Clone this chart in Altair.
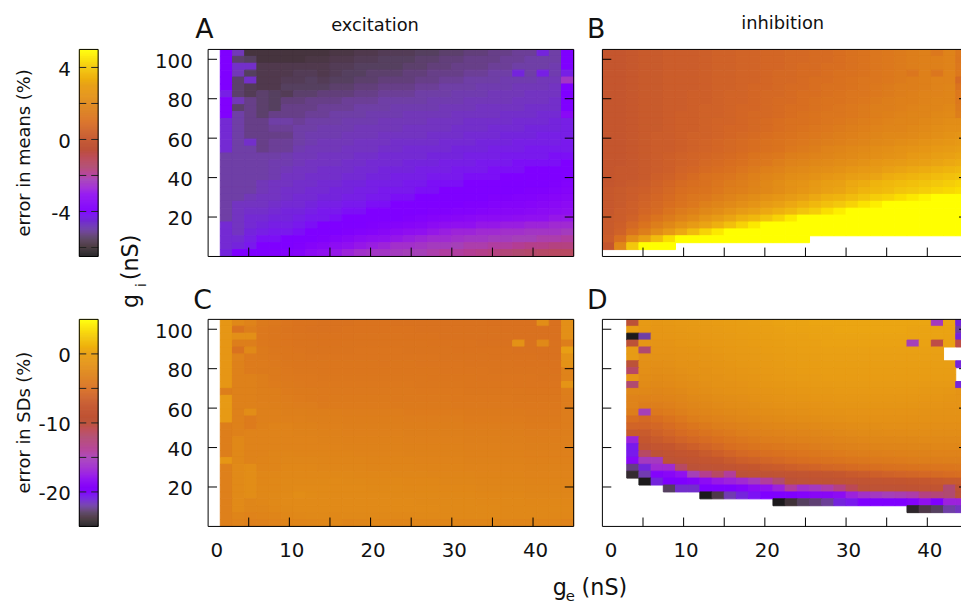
import altair as alt
import numpy as np
import pandas as pd

N = None
FONT = "DejaVu Sans"

# error in means, excitation (rows top to bottom, g_i high to low; columns g_e low to high)
means_exc = [
[N,-4.0,-4.8,-5.9,-5.9,-5.9,-5.9,-5.9,-5.9,-5.9,-5.8,-5.8,-5.7,-5.7,-5.6,-5.6,-5.6,-5.5,-5.5,-5.4,-5.4,-5.3,-5.3,-5.2,-5.2,-5.1,-5.1,-4.4,-5.0,-4.0],
[N,-4.0,-5.4,-5.5,-5.9,-5.9,-5.9,-5.9,-5.8,-5.8,-5.7,-5.7,-5.6,-5.6,-5.5,-5.5,-5.5,-5.4,-5.4,-5.3,-5.3,-5.2,-5.2,-5.2,-5.1,-5.1,-5.0,-5.0,-5.0,-4.0],
[N,-4.0,-4.6,-4.6,-5.7,-5.7,-5.7,-5.7,-5.7,-5.7,-5.6,-5.6,-5.5,-5.5,-5.5,-5.5,-5.4,-5.4,-5.3,-5.3,-5.2,-5.2,-5.2,-5.1,-5.1,-5.0,-5.0,-5.0,-4.9,-4.0],
[N,-4.0,-4.8,-5.5,-5.7,-5.7,-5.7,-5.6,-5.6,-5.7,-5.6,-5.5,-5.5,-5.4,-5.4,-5.4,-5.3,-5.3,-5.2,-5.2,-5.2,-5.1,-5.1,-5.0,-5.0,-4.4,-5.0,-4.3,-4.9,-4.3],
[N,-4.0,-5.4,-4.6,-5.7,-5.7,-5.6,-5.6,-5.5,-5.6,-5.5,-5.5,-5.4,-5.4,-5.3,-5.3,-5.3,-5.2,-5.2,-5.1,-5.1,-5.0,-5.0,-5.0,-4.9,-4.9,-4.9,-4.8,-4.8,-2.4],
[N,-4.0,-5.4,-5.6,-5.7,-5.7,-5.5,-5.5,-5.5,-5.5,-5.4,-5.4,-5.3,-5.3,-5.2,-5.2,-5.2,-5.1,-5.1,-5.0,-5.0,-5.0,-4.9,-4.9,-4.9,-4.8,-4.8,-4.8,-4.7,-4.0],
[N,-4.3,-5.4,-5.6,-5.4,-5.5,-5.6,-5.4,-5.4,-5.3,-5.3,-5.3,-5.2,-5.2,-5.1,-5.1,-5.1,-5.0,-5.0,-5.0,-4.9,-4.9,-4.9,-4.8,-4.8,-4.8,-4.7,-4.7,-4.7,-4.0],
[N,-3.9,-4.8,-5.2,-5.4,-5.5,-5.3,-5.3,-5.2,-5.2,-5.2,-5.1,-5.1,-5.1,-5.0,-5.0,-5.0,-5.0,-4.9,-4.9,-4.9,-4.8,-4.8,-4.8,-4.8,-4.7,-4.7,-4.7,-4.6,-4.0],
[N,-3.9,-5.4,-5.2,-5.4,-5.5,-5.2,-5.2,-5.2,-5.1,-5.1,-5.1,-5.0,-5.0,-5.0,-4.9,-4.9,-4.9,-4.9,-4.8,-4.8,-4.8,-4.7,-4.7,-4.7,-4.7,-4.6,-4.6,-4.6,-4.0],
[N,-3.9,-5.0,-5.2,-5.4,-5.2,-5.2,-5.2,-5.1,-5.1,-5.0,-5.0,-5.0,-4.9,-4.9,-4.9,-4.8,-4.8,-4.8,-4.8,-4.7,-4.7,-4.7,-4.7,-4.6,-4.6,-4.6,-4.5,-4.5,-3.4],
[N,-4.5,-5.0,-5.2,-5.2,-5.0,-5.0,-5.1,-5.0,-5.0,-5.0,-4.9,-4.9,-4.9,-4.8,-4.8,-4.8,-4.8,-4.7,-4.7,-4.7,-4.6,-4.6,-4.6,-4.6,-4.5,-4.5,-4.5,-4.4,-4.3],
[N,-4.5,-5.0,-5.2,-5.2,-5.1,-5.1,-5.0,-5.0,-4.9,-4.9,-4.9,-4.8,-4.8,-4.8,-4.8,-4.7,-4.7,-4.7,-4.7,-4.6,-4.6,-4.6,-4.5,-4.5,-4.5,-4.4,-4.4,-4.4,-4.3],
[N,-4.5,-5.0,-5.2,-5.2,-5.2,-5.2,-5.0,-4.9,-4.9,-4.9,-4.8,-4.8,-4.8,-4.7,-4.7,-4.7,-4.7,-4.6,-4.6,-4.6,-4.5,-4.5,-4.5,-4.4,-4.4,-4.4,-4.3,-4.3,-4.3],
[N,-4.5,-5.0,-4.6,-5.2,-5.1,-5.1,-5.0,-4.9,-4.8,-4.8,-4.8,-4.7,-4.7,-4.7,-4.6,-4.6,-4.6,-4.6,-4.5,-4.5,-4.5,-4.4,-4.4,-4.4,-4.3,-4.3,-4.3,-4.3,-4.2],
[N,-4.5,-5.0,-5.0,-5.2,-5.1,-5.1,-4.9,-4.8,-4.8,-4.8,-4.7,-4.7,-4.7,-4.6,-4.6,-4.5,-4.5,-4.5,-4.5,-4.4,-4.4,-4.4,-4.3,-4.3,-4.3,-4.2,-4.2,-4.2,-4.2],
[N,-5.0,-5.0,-5.0,-5.0,-5.0,-4.9,-4.8,-4.8,-4.7,-4.7,-4.7,-4.6,-4.6,-4.5,-4.5,-4.5,-4.5,-4.4,-4.4,-4.4,-4.3,-4.3,-4.3,-4.2,-4.2,-4.2,-4.2,-4.1,-4.1],
[N,-5.0,-5.0,-5.0,-5.0,-4.9,-4.9,-4.8,-4.7,-4.7,-4.7,-4.6,-4.6,-4.5,-4.5,-4.5,-4.4,-4.4,-4.4,-4.3,-4.3,-4.3,-4.2,-4.2,-4.2,-4.1,-4.1,-4.1,-4.1,-4.0],
[N,-5.0,-5.0,-5.0,-5.0,-4.9,-4.8,-4.7,-4.7,-4.6,-4.6,-4.6,-4.5,-4.5,-4.4,-4.4,-4.4,-4.3,-4.3,-4.3,-4.2,-4.2,-4.2,-4.1,-4.1,-4.1,-4.0,-4.0,-4.0,-4.0],
[N,-5.0,-5.0,-5.0,-5.0,-4.9,-4.7,-4.7,-4.6,-4.6,-4.6,-4.5,-4.5,-4.4,-4.4,-4.3,-4.3,-4.3,-4.2,-4.2,-4.2,-4.1,-4.1,-4.1,-4.0,-4.0,-4.0,-4.0,-4.0,-4.0],
[N,-5.0,-5.0,-5.0,-4.8,-4.7,-4.7,-4.6,-4.6,-4.5,-4.5,-4.4,-4.4,-4.3,-4.3,-4.3,-4.2,-4.2,-4.1,-4.1,-4.1,-4.0,-4.0,-4.0,-4.0,-4.0,-4.0,-4.0,-3.9,-3.8],
[N,-5.0,-5.0,-5.0,-4.8,-4.7,-4.6,-4.6,-4.5,-4.5,-4.4,-4.4,-4.3,-4.3,-4.2,-4.2,-4.2,-4.1,-4.1,-4.0,-4.0,-4.0,-4.0,-4.0,-4.0,-4.0,-3.9,-3.9,-3.8,-3.7],
[N,-5.0,-5.0,-4.8,-4.7,-4.7,-4.6,-4.5,-4.5,-4.4,-4.4,-4.3,-4.3,-4.2,-4.2,-4.1,-4.1,-4.0,-4.0,-4.0,-4.0,-4.0,-4.0,-3.9,-3.9,-3.8,-3.8,-3.7,-3.6,-3.5],
[N,-5.0,-4.7,-4.7,-4.7,-4.6,-4.5,-4.5,-4.4,-4.3,-4.3,-4.2,-4.2,-4.1,-4.1,-4.0,-4.0,-4.0,-4.0,-4.0,-4.0,-3.9,-3.9,-3.8,-3.7,-3.7,-3.6,-3.5,-3.4,-3.3],
[N,-5.0,-4.7,-4.6,-4.6,-4.5,-4.4,-4.4,-4.3,-4.2,-4.2,-4.1,-4.1,-4.0,-4.0,-4.0,-4.0,-4.0,-3.9,-3.9,-3.8,-3.8,-3.7,-3.6,-3.5,-3.5,-3.4,-3.3,-3.2,-3.1],
[N,-5.0,-4.7,-4.5,-4.5,-4.4,-4.4,-4.3,-4.2,-4.2,-4.1,-4.0,-4.0,-4.0,-4.0,-4.0,-3.9,-3.8,-3.7,-3.6,-3.5,-3.4,-3.3,-3.3,-3.2,-3.1,-3.0,-3.0,-2.9,-2.9],
[N,-4.5,-4.7,-4.5,-4.4,-4.3,-4.3,-4.2,-4.1,-4.0,-4.0,-4.0,-4.0,-3.9,-3.8,-3.7,-3.6,-3.5,-3.3,-3.1,-3.0,-3.0,-2.9,-2.9,-2.8,-2.8,-2.7,-2.7,-2.6,-2.6],
[N,-4.5,-4.7,-4.4,-4.3,-4.2,-4.2,-4.1,-4.0,-4.0,-4.0,-3.9,-3.8,-3.7,-3.5,-3.3,-3.1,-3.0,-2.9,-2.8,-2.7,-2.7,-2.6,-2.6,-2.5,-2.5,-2.4,-2.4,-2.4,-2.3],
[N,-4.5,-4.5,-4.3,-4.1,-4.1,-4.0,-4.0,-4.0,-3.9,-3.7,-3.5,-3.3,-3.1,-3.0,-2.9,-2.8,-2.7,-2.6,-2.6,-2.5,-2.4,-2.4,-2.3,-2.3,-2.2,-2.2,-2.1,-2.1,-2.0],
[N,-4.5,-4.4,-4.2,-4.0,-4.0,-4.0,-3.9,-3.7,-3.5,-3.2,-3.0,-2.9,-2.8,-2.7,-2.5,-2.5,-2.4,-2.3,-2.3,-2.2,-2.1,-2.1,-2.0,-2.0,-1.9,-1.8,-1.8,-1.7,-1.7],
[N,-4.4,-4.0,-4.0,-4.0,-3.9,-3.8,-3.7,-3.3,-3.0,-2.9,-2.7,-2.5,-2.4,-2.4,-2.3,-2.2,-2.2,-2.1,-2.0,-2.0,-1.9,-1.8,-1.7,-1.6,-1.5,-1.4,-1.3,-1.2,-1.2],
]

# error in means, inhibition
means_inh = [
[0.0,0.0,0.1,0.2,0.2,0.3,0.3,0.3,0.4,0.5,0.5,0.6,0.6,0.7,0.7,0.8,0.8,0.9,0.9,1.0,1.1,1.2,1.3,1.4,1.5,1.6,1.7,1.4,1.8,1.4],
[0.0,0.0,0.1,0.2,0.2,0.3,0.3,0.3,0.4,0.5,0.5,0.6,0.6,0.7,0.7,0.8,0.8,0.9,0.9,1.0,1.1,1.2,1.3,1.4,1.5,1.6,1.7,1.7,1.8,1.3],
[0.0,0.0,0.1,0.2,0.2,0.3,0.3,0.3,0.4,0.5,0.5,0.6,0.6,0.7,0.7,0.8,0.9,0.9,1.0,1.0,1.1,1.2,1.3,1.4,1.5,1.6,1.7,1.7,1.8,1.4],
[0.0,0.0,0.1,0.2,0.2,0.3,0.3,0.3,0.4,0.5,0.5,0.6,0.6,0.7,0.8,0.8,0.9,0.9,1.0,1.1,1.1,1.2,1.3,1.4,1.5,1.3,1.7,1.3,1.8,1.4],
[0.0,0.0,0.1,0.2,0.2,0.3,0.3,0.3,0.4,0.5,0.5,0.6,0.6,0.7,0.8,0.8,0.9,1.0,1.0,1.1,1.2,1.3,1.3,1.4,1.5,1.6,1.7,1.8,1.8,0.9],
[0.0,0.0,0.1,0.2,0.2,0.3,0.3,0.3,0.4,0.5,0.5,0.6,0.7,0.7,0.8,0.9,0.9,1.0,1.1,1.1,1.2,1.3,1.4,1.5,1.6,1.6,1.7,1.8,1.9,1.2],
[0.0,0.0,0.1,0.2,0.2,0.3,0.3,0.4,0.4,0.5,0.6,0.6,0.7,0.8,0.8,0.9,1.0,1.0,1.1,1.2,1.3,1.3,1.4,1.5,1.6,1.7,1.8,1.8,1.9,1.4],
[0.0,0.0,0.1,0.2,0.2,0.3,0.3,0.4,0.4,0.5,0.6,0.6,0.7,0.8,0.9,0.9,1.0,1.1,1.2,1.2,1.3,1.4,1.5,1.6,1.7,1.7,1.8,1.9,1.9,1.4],
[0.0,0.0,0.1,0.2,0.2,0.3,0.3,0.4,0.5,0.5,0.6,0.7,0.7,0.8,0.9,1.0,1.0,1.1,1.2,1.3,1.4,1.5,1.6,1.6,1.7,1.8,1.9,1.9,2.0,1.5],
[0.0,0.0,0.1,0.2,0.2,0.3,0.4,0.4,0.5,0.5,0.6,0.7,0.8,0.8,0.9,1.0,1.1,1.2,1.3,1.3,1.4,1.5,1.6,1.7,1.8,1.9,1.9,2.0,2.1,1.6],
[0.0,0.0,0.1,0.2,0.2,0.3,0.4,0.4,0.5,0.6,0.6,0.7,0.8,0.9,1.0,1.1,1.1,1.2,1.3,1.4,1.5,1.6,1.7,1.8,1.9,1.9,2.0,2.1,2.2,2.2],
[0.0,0.0,0.1,0.2,0.2,0.3,0.4,0.4,0.5,0.6,0.7,0.7,0.8,0.9,1.0,1.1,1.2,1.3,1.4,1.5,1.6,1.7,1.8,1.9,1.9,2.0,2.1,2.2,2.3,2.3],
[0.0,0.0,0.1,0.2,0.3,0.3,0.4,0.5,0.5,0.6,0.7,0.8,0.9,1.0,1.1,1.2,1.3,1.4,1.5,1.6,1.7,1.8,1.9,2.0,2.0,2.1,2.2,2.3,2.4,2.5],
[0.0,0.0,0.1,0.2,0.3,0.3,0.4,0.5,0.6,0.7,0.8,0.9,1.0,1.1,1.2,1.3,1.4,1.5,1.6,1.7,1.8,1.9,2.0,2.1,2.2,2.3,2.4,2.5,2.6,2.7],
[0.0,0.0,0.1,0.2,0.3,0.3,0.4,0.5,0.6,0.7,0.8,0.9,1.0,1.1,1.2,1.4,1.5,1.6,1.8,1.9,2.0,2.1,2.2,2.3,2.4,2.5,2.6,2.7,2.8,2.9],
[0.0,0.0,0.1,0.2,0.3,0.4,0.5,0.6,0.7,0.8,0.9,1.0,1.2,1.3,1.4,1.6,1.7,1.8,1.9,2.0,2.1,2.2,2.3,2.4,2.5,2.7,2.8,2.9,3.0,3.1],
[0.0,0.0,0.1,0.2,0.3,0.4,0.5,0.6,0.8,0.9,1.0,1.1,1.3,1.4,1.6,1.8,1.9,2.0,2.1,2.2,2.3,2.4,2.6,2.7,2.8,2.9,3.0,3.1,3.2,3.3],
[0.0,0.1,0.1,0.2,0.3,0.4,0.6,0.7,0.9,1.0,1.1,1.3,1.5,1.7,1.8,2.0,2.1,2.2,2.3,2.4,2.6,2.7,2.8,3.0,3.1,3.2,3.3,3.4,3.5,3.6],
[0.0,0.1,0.1,0.2,0.4,0.5,0.7,0.9,1.1,1.2,1.3,1.5,1.7,1.9,2.0,2.2,2.3,2.4,2.6,2.7,2.9,3.0,3.1,3.3,3.4,3.5,3.6,3.7,3.8,3.9],
[0.0,0.1,0.2,0.3,0.5,0.7,0.9,1.0,1.1,1.3,1.5,1.6,1.8,2.0,2.2,2.4,2.5,2.7,2.9,3.0,3.2,3.3,3.5,3.6,3.7,3.8,3.9,4.0,4.1,4.2],
[0.1,0.2,0.3,0.4,0.6,0.8,1.0,1.1,1.2,1.4,1.6,1.7,1.9,2.0,2.2,2.4,2.6,2.8,3.0,3.1,3.3,3.5,3.6,3.7,3.9,4.0,4.1,4.2,4.3,4.4],
[0.1,0.2,0.3,0.5,0.7,0.9,1.1,1.3,1.4,1.6,1.8,2.0,2.2,2.4,2.6,2.8,3.0,3.2,3.4,3.5,3.7,3.9,4.1,4.2,4.4,4.6,4.8,6,6,6],
[0.1,0.2,0.4,0.6,0.8,1.0,1.2,1.4,1.7,1.9,2.1,2.3,2.5,2.8,3.0,3.2,3.4,3.6,3.8,4.0,4.2,4.5,4.7,6,6,6,6,6,6,6],
[0.1,0.3,0.4,0.7,0.9,1.2,1.5,1.7,2.0,2.2,2.5,2.8,3.0,3.2,3.4,3.6,3.9,4.1,4.4,4.7,6,6,6,6,6,6,6,6,6,6],
[0.2,0.3,0.5,0.9,1.2,1.5,1.8,2.1,2.5,2.8,3.1,3.4,3.6,3.9,4.2,4.6,6,6,6,6,6,6,6,6,6,6,6,6,6,6],
[0.2,0.4,0.8,1.2,1.6,2.0,2.4,2.8,3.1,3.4,3.8,4.2,4.6,6,6,6,6,6,6,6,6,6,6,6,6,6,6,6,6,6],
[0.2,0.5,1.1,1.6,2.2,2.7,3.2,3.7,4.2,4.6,6,6,6,6,6,6,6,6,6,6,6,6,6,6,6,6,6,6,6,6],
[0.3,1.0,2.2,3.0,3.7,4.4,6,6,6,6,6,6,6,6,6,6,6,N,N,N,N,N,N,N,N,N,N,N,N,N],
[0.0,2.0,4.0,6,6,6,N,N,N,N,N,N,N,N,N,N,N,N,N,N,N,N,N,N,N,N,N,N,N,N],
[N,N,N,N,N,N,N,N,N,N,N,N,N,N,N,N,N,N,N,N,N,N,N,N,N,N,N,N,N,N],
]

# error in SDs, excitation
sds_exc = [
[N,-1.0,-2.5,-3.0,-3.8,-4.0,-4.3,-4.5,-4.5,-4.6,-4.6,-4.6,-4.5,-4.5,-4.5,-4.6,-4.6,-4.6,-4.6,-4.6,-4.6,-4.6,-4.6,-4.7,-4.7,-4.7,-4.7,-2.0,-4.7,-1.8],
[N,-1.0,-4.5,-3.5,-4.0,-4.2,-4.4,-4.5,-4.6,-4.6,-4.6,-4.5,-4.5,-4.5,-4.5,-4.5,-4.5,-4.6,-4.6,-4.6,-4.6,-4.6,-4.6,-4.6,-4.7,-4.7,-4.7,-4.7,-4.7,-1.8],
[N,-1.0,-1.8,-1.8,-4.0,-4.2,-4.3,-4.4,-4.5,-4.5,-4.5,-4.5,-4.4,-4.4,-4.4,-4.4,-4.5,-4.5,-4.5,-4.6,-4.6,-4.6,-4.6,-4.6,-4.6,-4.7,-4.7,-4.7,-4.7,-1.8],
[N,-1.0,-3.5,-3.5,-4.0,-4.2,-4.3,-4.4,-4.4,-4.5,-4.5,-4.4,-4.4,-4.4,-4.4,-4.4,-4.4,-4.4,-4.5,-4.5,-4.5,-4.5,-4.6,-4.6,-4.6,-1.5,-4.6,-2.4,-4.6,-3.5],
[N,-1.0,-4.6,-2.4,-3.8,-4.1,-4.2,-4.3,-4.4,-4.4,-4.4,-4.4,-4.3,-4.3,-4.3,-4.3,-4.4,-4.4,-4.4,-4.4,-4.5,-4.5,-4.5,-4.5,-4.5,-4.6,-4.6,-4.6,-4.6,-0.2],
[N,-1.0,-3.0,-3.7,-3.8,-4.0,-4.2,-4.2,-4.3,-4.3,-4.3,-4.3,-4.3,-4.3,-4.3,-4.3,-4.3,-4.3,-4.3,-4.4,-4.4,-4.4,-4.4,-4.5,-4.5,-4.5,-4.5,-4.6,-4.6,-1.5],
[N,-1.0,-3.2,-3.7,-3.7,-3.9,-4.1,-4.2,-4.2,-4.2,-4.2,-4.2,-4.2,-4.2,-4.3,-4.2,-4.2,-4.3,-4.3,-4.3,-4.3,-4.4,-4.4,-4.4,-4.4,-4.5,-4.5,-4.5,-4.5,-1.5],
[N,-1.0,-3.2,-3.7,-3.8,-3.8,-4.0,-4.1,-4.1,-4.2,-4.2,-4.2,-4.2,-4.2,-4.2,-4.2,-4.2,-4.2,-4.2,-4.3,-4.3,-4.3,-4.3,-4.4,-4.4,-4.4,-4.4,-4.4,-4.5,-3.0],
[N,-1.0,-3.2,-3.2,-3.5,-3.8,-3.9,-4.0,-4.0,-4.1,-4.1,-4.1,-4.1,-4.1,-4.1,-4.1,-4.1,-4.1,-4.2,-4.2,-4.2,-4.2,-4.3,-4.3,-4.3,-4.3,-4.3,-4.4,-4.4,-3.0],
[N,-1.0,-3.2,-3.2,-3.5,-3.7,-3.8,-3.9,-4.0,-4.0,-4.0,-4.0,-4.0,-4.0,-4.0,-4.0,-4.0,-4.1,-4.1,-4.1,-4.1,-4.2,-4.2,-4.2,-4.2,-4.3,-4.3,-4.3,-4.3,-1.2],
[N,-3.5,-3.2,-3.2,-3.4,-3.5,-3.7,-3.8,-3.8,-3.9,-3.9,-3.9,-3.9,-3.9,-3.9,-3.9,-3.9,-4.0,-4.0,-4.0,-4.0,-4.1,-4.1,-4.1,-4.1,-4.1,-4.2,-4.2,-4.2,-3.5],
[N,-0.6,-3.2,-3.2,-3.4,-3.5,-3.6,-3.7,-3.8,-3.9,-3.8,-3.8,-3.8,-3.8,-3.8,-3.9,-3.9,-3.9,-3.9,-3.9,-4.0,-4.0,-4.0,-4.0,-4.0,-4.1,-4.1,-4.1,-4.1,-3.6],
[N,-0.6,-3.2,-3.2,-3.3,-3.4,-3.5,-3.6,-3.6,-3.8,-3.7,-3.7,-3.7,-3.7,-3.7,-3.8,-3.8,-3.8,-3.8,-3.8,-3.9,-3.9,-3.9,-3.9,-3.9,-4.0,-4.0,-4.0,-4.0,-3.6],
[N,-0.6,-3.2,-2.0,-3.3,-3.3,-3.4,-3.4,-3.5,-3.5,-3.5,-3.6,-3.6,-3.6,-3.6,-3.6,-3.7,-3.7,-3.7,-3.7,-3.7,-3.8,-3.8,-3.8,-3.8,-3.8,-3.9,-3.9,-3.9,-3.6],
[N,-0.6,-3.2,-3.7,-3.3,-3.3,-3.3,-3.3,-3.4,-3.4,-3.4,-3.5,-3.5,-3.5,-3.5,-3.5,-3.6,-3.6,-3.6,-3.6,-3.6,-3.7,-3.7,-3.7,-3.7,-3.7,-3.8,-3.8,-3.8,-3.6],
[N,-3.5,-3.2,-3.7,-3.2,-3.0,-3.0,-3.2,-3.2,-3.3,-3.3,-3.4,-3.4,-3.4,-3.4,-3.4,-3.5,-3.5,-3.5,-3.5,-3.5,-3.6,-3.6,-3.6,-3.6,-3.6,-3.7,-3.7,-3.7,-3.6],
[N,-3.5,-3.2,-3.0,-3.0,-3.0,-3.0,-3.1,-3.1,-3.2,-3.2,-3.3,-3.3,-3.3,-3.3,-3.3,-3.4,-3.4,-3.4,-3.4,-3.4,-3.5,-3.5,-3.5,-3.5,-3.5,-3.6,-3.6,-3.6,-3.5],
[N,-3.5,-2.5,-3.0,-3.0,-3.0,-3.0,-3.0,-3.0,-3.1,-3.1,-3.2,-3.2,-3.2,-3.2,-3.2,-3.3,-3.3,-3.3,-3.3,-3.3,-3.4,-3.4,-3.4,-3.4,-3.4,-3.5,-3.5,-3.5,-3.4],
[N,-3.5,-2.5,-3.0,-3.0,-3.0,-3.0,-3.0,-3.0,-3.0,-3.0,-3.1,-3.1,-3.1,-3.1,-3.1,-3.2,-3.2,-3.2,-3.2,-3.2,-3.3,-3.3,-3.3,-3.3,-3.3,-3.4,-3.4,-3.4,-3.4],
[N,-3.5,-2.5,-3.0,-3.0,-2.8,-2.8,-2.9,-2.9,-2.9,-2.9,-2.9,-3.0,-3.0,-3.0,-3.0,-3.1,-3.1,-3.1,-3.1,-3.1,-3.2,-3.2,-3.2,-3.2,-3.2,-3.3,-3.3,-3.3,-3.3],
[N,-1.0,-2.5,-3.0,-2.9,-2.8,-2.7,-2.7,-2.7,-2.8,-2.8,-2.8,-2.8,-2.9,-2.9,-2.9,-2.9,-3.0,-3.0,-3.0,-3.0,-3.1,-3.1,-3.1,-3.1,-3.1,-3.2,-3.2,-3.2,-3.2],
[N,-3.3,-2.3,-2.0,-2.8,-2.8,-2.6,-2.6,-2.6,-2.7,-2.7,-2.7,-2.7,-2.8,-2.8,-2.8,-2.8,-2.9,-2.9,-2.9,-2.9,-3.0,-3.0,-3.0,-3.0,-3.0,-3.1,-3.1,-3.1,-3.1],
[N,-3.3,-2.3,-2.0,-2.6,-2.6,-2.5,-2.5,-2.5,-2.5,-2.5,-2.5,-2.6,-2.6,-2.6,-2.7,-2.7,-2.7,-2.8,-2.8,-2.8,-2.8,-2.9,-2.9,-2.9,-2.9,-3.0,-3.0,-3.0,-3.0],
[N,-3.3,-2.3,-2.0,-2.6,-2.5,-2.4,-2.4,-2.4,-2.4,-2.3,-2.4,-2.4,-2.5,-2.5,-2.5,-2.6,-2.6,-2.6,-2.7,-2.7,-2.7,-2.8,-2.8,-2.8,-2.8,-2.9,-2.9,-2.9,-2.9],
[N,-3.3,-2.3,-2.0,-2.5,-2.5,-2.4,-2.3,-2.3,-2.3,-2.3,-2.3,-2.3,-2.4,-2.4,-2.4,-2.5,-2.5,-2.5,-2.6,-2.6,-2.6,-2.7,-2.7,-2.7,-2.7,-2.8,-2.8,-2.8,-2.8],
[N,-3.3,-2.3,-2.0,-2.5,-2.4,-2.3,-2.0,-2.2,-2.3,-2.3,-2.3,-2.3,-2.3,-2.3,-2.4,-2.4,-2.4,-2.4,-2.5,-2.5,-2.5,-2.6,-2.6,-2.6,-2.6,-2.7,-2.7,-2.7,-2.7],
[N,-3.3,-2.3,-2.7,-2.6,-2.4,-2.3,-2.3,-2.3,-2.3,-2.3,-2.3,-2.3,-2.3,-2.3,-2.3,-2.3,-2.4,-2.4,-2.4,-2.4,-2.4,-2.5,-2.5,-2.5,-2.5,-2.6,-2.6,-2.6,-2.6],
[N,-3.3,-2.3,-2.7,-2.7,-2.5,-2.4,-2.3,-2.3,-2.3,-2.3,-2.3,-2.3,-2.3,-2.3,-2.3,-2.3,-2.3,-2.3,-2.4,-2.4,-2.4,-2.4,-2.4,-2.5,-2.5,-2.5,-2.5,-2.5,-2.5],
[N,-3.3,-2.8,-3.0,-2.9,-2.8,-2.6,-2.5,-2.4,-2.4,-2.5,-2.4,-2.4,-2.4,-2.4,-2.5,-2.5,-2.4,-2.4,-2.4,-2.4,-2.4,-2.4,-2.4,-2.5,-2.5,-2.5,-2.5,-2.6,-2.6],
[N,-3.3,-3.0,-3.3,-3.2,-3.0,-2.9,-2.8,-2.7,-2.6,-2.5,-2.8,-2.7,-2.6,-2.6,-2.8,-2.8,-2.7,-2.7,-2.7,-2.7,-2.7,-2.7,-2.7,-2.7,-2.8,-2.8,-2.8,-2.8,-3.0],
]

# error in SDs, inhibition
sds_inh = [
[N,N,-10,-0.6,-0.9,-0.8,-0.7,-0.6,-0.5,-0.4,-0.3,-0.2,-0.1,0.0,0.1,0.2,0.2,0.3,0.3,0.3,0.3,0.3,0.3,0.3,0.3,0.3,0.3,-15.5,0.3,-21],
[N,N,-0.3,-0.7,-1.0,-0.9,-0.8,-0.7,-0.6,-0.5,-0.4,-0.3,-0.2,-0.1,0.0,0.1,0.1,0.2,0.2,0.3,0.3,0.3,0.3,0.3,0.3,0.2,0.2,0.2,0.2,-22],
[N,N,-25.5,-22,-1.0,-1.0,-0.9,-0.8,-0.7,-0.6,-0.5,-0.4,-0.3,-0.2,-0.1,0.0,0.0,0.1,0.1,0.2,0.2,0.2,0.2,0.2,0.2,0.2,0.2,0.2,0.1,-21],
[N,N,-10,-1.0,-1.2,-1.2,-1.0,-0.9,-0.8,-0.7,-0.6,-0.5,-0.4,-0.3,-0.2,-0.1,0.0,0.0,0.1,0.1,0.1,0.1,0.1,0.1,0.1,-15,0.1,-10.5,0.1,-10.5],
[N,N,-0.5,-12,-1.3,-1.3,-1.2,-1.1,-1.0,-0.8,-0.7,-0.6,-0.5,-0.4,-0.3,-0.2,-0.1,-0.1,0.0,0.0,0.0,0.0,0.0,0.0,0.0,0.0,0.0,0.0,N,N],
[N,N,-0.5,-1.5,-1.5,-1.5,-1.3,-1.2,-1.1,-1.0,-0.8,-0.7,-0.6,-0.5,-0.4,-0.3,-0.2,-0.2,-0.1,-0.1,-0.1,-0.1,-0.1,-0.1,-0.1,-0.1,-0.1,-0.1,N,N],
[N,N,-10,-1.7,-1.8,-1.7,-1.5,-1.4,-1.2,-1.1,-1.0,-0.8,-0.7,-0.6,-0.5,-0.4,-0.3,-0.3,-0.2,-0.2,-0.2,-0.2,-0.2,-0.2,-0.2,-0.2,-0.2,-0.2,-0.2,-21],
[N,N,-11.5,-1.8,-2.0,-1.9,-1.7,-1.5,-1.4,-1.2,-1.1,-1.0,-0.8,-0.7,-0.6,-0.5,-0.4,-0.4,-0.3,-0.3,-0.3,-0.3,-0.3,-0.3,-0.3,-0.3,-0.3,-0.3,-0.3,N],
[N,N,-1.0,-2.0,-2.2,-2.1,-1.9,-1.7,-1.5,-1.4,-1.2,-1.1,-1.0,-0.8,-0.7,-0.6,-0.5,-0.5,-0.4,-0.4,-0.4,-0.4,-0.4,-0.4,-0.4,-0.4,-0.4,-0.4,-0.4,N],
[N,N,-12,-2.2,-2.4,-2.3,-2.1,-1.9,-1.7,-1.5,-1.4,-1.3,-1.1,-1.0,-0.9,-0.8,-0.7,-0.6,-0.6,-0.5,-0.5,-0.5,-0.5,-0.5,-0.5,-0.5,-0.6,-0.6,-0.6,-21],
[N,N,-2.5,-2.5,-2.7,-2.6,-2.4,-2.1,-1.9,-1.7,-1.6,-1.5,-1.3,-1.2,-1.1,-1.0,-0.9,-0.8,-0.8,-0.7,-0.7,-0.7,-0.7,-0.7,-0.7,-0.7,-0.8,-0.8,-0.9,-1.2],
[N,N,-3.0,-3.0,-3.0,-2.9,-2.7,-2.4,-2.2,-2.0,-1.9,-1.8,-1.6,-1.4,-1.3,-1.2,-1.1,-1.0,-1.0,-0.9,-0.9,-0.9,-0.9,-0.9,-0.9,-0.9,-1.0,-1.0,-1.1,-1.2],
[N,N,-3.0,-3.5,-3.5,-3.3,-3.0,-2.7,-2.5,-2.3,-2.1,-2.0,-1.9,-1.7,-1.6,-1.5,-1.4,-1.3,-1.2,-1.1,-1.1,-1.1,-1.1,-1.1,-1.1,-1.1,-1.2,-1.2,-1.3,-1.3],
[N,N,-3.5,-15,-4.0,-3.7,-3.4,-3.0,-2.8,-2.6,-2.4,-2.3,-2.1,-2.0,-1.9,-1.8,-1.7,-1.6,-1.5,-1.4,-1.3,-1.3,-1.3,-1.3,-1.3,-1.3,-1.4,-1.4,-1.4,-1.4],
[N,N,-5.0,-5.5,-5.0,-4.5,-4.0,-3.5,-3.2,-3.0,-2.8,-2.6,-2.5,-2.3,-2.2,-2.1,-2.0,-1.9,-1.8,-1.7,-1.6,-1.6,-1.6,-1.6,-1.6,-1.6,-1.6,-1.6,-1.6,-1.6],
[N,N,-6.0,-6.0,-5.7,-5.2,-4.7,-4.2,-3.8,-3.5,-3.3,-3.1,-2.9,-2.7,-2.6,-2.5,-2.4,-2.3,-2.2,-2.1,-2.0,-1.9,-1.9,-1.8,-1.8,-1.8,-1.8,-1.8,-1.8,-1.8],
[N,N,-7.0,-7.0,-6.3,-5.8,-5.3,-4.9,-4.5,-4.1,-3.8,-3.5,-3.3,-3.1,-3.0,-2.9,-2.8,-2.7,-2.6,-2.4,-2.3,-2.2,-2.2,-2.1,-2.1,-2.0,-2.0,-2.0,-2.0,-2.0],
[N,N,-17,-7.5,-7.0,-6.5,-6.0,-5.6,-5.2,-4.8,-4.4,-4.1,-3.8,-3.6,-3.5,-3.3,-3.2,-3.1,-3.0,-2.8,-2.7,-2.6,-2.5,-2.5,-2.4,-2.4,-2.3,-2.3,-2.3,-2.3],
[N,N,-20.5,-9.0,-8.0,-7.5,-7.0,-6.5,-6.0,-5.5,-5.0,-4.7,-4.4,-4.2,-4.0,-3.8,-3.7,-3.6,-3.4,-3.2,-3.1,-3.0,-2.9,-2.8,-2.8,-2.7,-2.7,-2.6,-2.6,-2.6],
[N,N,-20.5,-11.5,-9.5,-8.5,-8.0,-7.5,-7.0,-6.5,-6.0,-5.5,-5.2,-4.9,-4.7,-4.5,-4.3,-4.1,-3.9,-3.7,-3.6,-3.5,-3.4,-3.3,-3.2,-3.1,-3.1,-3.0,-3.0,-3.0],
[N,N,-19,-15.5,-15.5,-9.5,-9.0,-8.5,-8.0,-7.5,-7.0,-6.5,-6.2,-5.8,-5.5,-5.2,-5.0,-4.8,-4.6,-4.4,-4.2,-4.1,-3.9,-3.8,-3.7,-3.6,-3.5,-3.5,-3.4,-3.4],
[N,N,-22.5,-21,-16.5,-16.5,-11.5,-10,-9.5,-9.0,-8.5,-8.0,-7.5,-7.0,-6.8,-6.5,-6.2,-6.0,-5.7,-5.5,-5.3,-5.1,-4.9,-4.7,-4.6,-4.5,-4.4,-4.3,-4.2,-4.1],
[N,N,-24.3,-21.8,-19.5,-19,-18,-15,-13.5,-11.5,-14,-10,-9.5,-9.0,-8.8,-8.5,-8.2,-8.0,-7.7,-7.4,-7.1,-6.8,-6.5,-6.2,-6.0,-5.8,-5.6,-5.4,-5.2,-5.0],
[N,N,N,-25,-21,-20,-20,-19.5,-18.5,-17.5,-17,-16.5,-15.5,-14,-12,-10,-9.5,-9.2,-9.0,-8.8,-8.6,-8.4,-8.2,-8.0,-7.8,-7.6,-7.4,-7.2,-7.0,-7.0],
[N,N,N,N,N,-23,-21.3,-21.3,-20,-20,-20,-19.5,-18.5,-18,-17,-14,-16,-15.5,-14.5,-13,-11,-10,-9.5,-9.5,-9.3,-9.0,-8.8,-8.5,-12,-9],
[N,N,N,N,N,N,N,N,-25.5,-23.5,-21.8,-21,-20.3,-20,-20,-20,-19.5,-19,-19,-18.5,-17,-16,-15.5,-15,-14.8,-14.5,-13,-12.5,-12,-10],
[N,N,N,N,N,N,N,N,N,N,N,N,N,N,-25,-24,-23,-22.7,-22.2,-21,-20.5,-20,-20,-20,-20,-19.5,-18,-20,-17,-17],
[N,N,N,N,N,N,N,N,N,N,N,N,N,N,N,N,N,N,N,N,N,N,N,N,N,-24.5,-23.5,-23,-22,-21.5],
[N]*30,
[N]*30,
]

means_bar_ticks = [-6, -4, -2, 0, 2, 4]
sds_bar_ticks = [-25, -20, -15, -10, -5, 0]
x_ticks = [5, 10, 15, 20, 25, 30, 35, 40]
x_ticks_full = [0] + x_ticks
y_ticks = [20, 40, 60, 80, 100]

means_stops = [-6.5,-6,-5.5,-5,-4.4,-4,-3,-2.2,-1.5,-0.5,0,1,2,3,4,5]
sds_stops = [-25,-24,-23,-22,-21,-20,-18,-15,-12,-10,-7.5,-5,-2.5,0,2.5,5]
palette = ["#1c1a1c","#403238","#55405f","#6f3fa6","#7424dc","#7f00ff","#9010f0","#a540b8",
           "#b04a70","#bc5238","#c4562e","#d86e20","#e08818","#e9a014","#f3c80c","#ffff00"]

CELL_X, CELL_Y = 1.5, 3.5
W, H = 369, 209
WB = 362
GAP_AB = 29
GAP_BAR = 111
INK = "#000000"


def one():
    return alt.Data(values=[{}])


def label(txt, x, y, size, angle=0, align="left", color="#111111"):
    return alt.Chart(one()).mark_text(
        text=txt, font=FONT, fontSize=size, angle=angle, align=align,
        baseline="alphabetic", color=color,
    ).encode(x=alt.value(x), y=alt.value(y))


def border(w, h, right=True):
    parts = [
        alt.Chart(one()).mark_rule(color=INK, strokeWidth=1).encode(x=alt.value(0), x2=alt.value(w), y=alt.value(0)),
        alt.Chart(one()).mark_rule(color=INK, strokeWidth=1).encode(x=alt.value(0), x2=alt.value(w), y=alt.value(h)),
        alt.Chart(one()).mark_rule(color=INK, strokeWidth=1).encode(x=alt.value(0), y=alt.value(0), y2=alt.value(h)),
    ]
    if right:
        parts.append(alt.Chart(one()).mark_rule(color=INK, strokeWidth=1).encode(x=alt.value(w), y=alt.value(0), y2=alt.value(h)))
    return parts


def cells(matrix):
    rows = []
    n = len(matrix)
    for r, row in enumerate(matrix):
        for c, v in enumerate(row):
            if v is None:
                continue
            rows.append({"x0": c * CELL_X, "x1": (c + 1) * CELL_X,
                         "y0": (n - 1 - r) * CELL_Y, "y1": (n - r) * CELL_Y, "v": v})
    return pd.DataFrame(rows)


def panel(matrix, stops, plot_w, cell_w, xmax, show_x, show_y, extras, right_ticks):
    xscale = alt.Scale(domain=[0, xmax], range=[0, plot_w], nice=False, zero=False)
    yscale = alt.Scale(domain=[0, 105], nice=False, zero=False)
    cscale = alt.Scale(domain=stops, range=palette, clamp=True)
    xaxis = alt.Axis(values=x_ticks_full, tickSize=0, domain=False, grid=False, title=None,
                     labelFont=FONT, labelFontSize=20, labelColor="#111111", labelPadding=14,
                     labelOffset=2, labelOverlap=False,
                     labelExpr="datum.value % 10 == 0 ? '' + datum.value : ''") if show_x else None
    yaxis = alt.Axis(values=y_ticks, tickSize=0, domain=False, grid=False, title=None,
                     labelFont=FONT, labelFontSize=20, labelColor="#111111", labelPadding=16,
                     labelOffset=2) if show_y else None
    rect = alt.Chart(cells(matrix)).mark_rect(clip=True, strokeWidth=1).encode(
        x=alt.X("x0:Q", scale=xscale, axis=xaxis),
        x2="x1:Q",
        y=alt.Y("y0:Q", scale=yscale, axis=yaxis),
        y2="y1:Q",
        color=alt.Color("v:Q", scale=cscale, legend=None),
        stroke=alt.Stroke("v:Q", scale=cscale, legend=None),
    )
    xt = alt.Chart(pd.DataFrame({"t": x_ticks})).mark_rule(color=INK, strokeWidth=1).encode(
        x=alt.X("t:Q", scale=xscale, axis=xaxis), y=alt.value(H), y2=alt.value(H - 9))
    yt = alt.Chart(pd.DataFrame({"t": y_ticks})).mark_rule(color=INK, strokeWidth=1).encode(
        y=alt.Y("t:Q", scale=yscale, axis=yaxis), x=alt.value(0), x2=alt.value(9))
    rt = alt.Chart(pd.DataFrame({"t": right_ticks})).mark_rule(color=INK, strokeWidth=1).encode(
        y=alt.Y("t:Q", scale=yscale, axis=yaxis), x=alt.value(W - 9), x2=alt.value(min(W, plot_w)))
    layers = [rect, xt, yt, rt] + border(plot_w, H, right=plot_w == W) + extras
    return alt.layer(*layers).properties(width=cell_w, height=H)


def bar(stops, ticks, lo, hi, shown, title, tx_y):
    steps = np.linspace(lo, hi, 211)
    df = pd.DataFrame({"a": steps[:-1], "b": steps[1:]})
    df["v"] = (df["a"] + df["b"]) / 2
    yscale = alt.Scale(domain=[lo, hi], nice=False, zero=False)
    cscale = alt.Scale(domain=stops, range=palette, clamp=True)
    expr = "indexof(%s, datum.value) >= 0 ? '' + datum.value : ''" % str(shown)
    yaxis = alt.Axis(values=ticks, tickSize=0, domain=False, grid=False, title=None, labelFont=FONT,
                     labelFontSize=20, labelColor="#111111", labelPadding=9, labelOffset=2,
                     labelOverlap=False, labelExpr=expr)
    rect = alt.Chart(df).mark_rect(strokeWidth=0.5).encode(
        y=alt.Y("a:Q", scale=yscale, axis=yaxis),
        y2="b:Q",
        x=alt.value(0), x2=alt.value(19),
        color=alt.Color("v:Q", scale=cscale, legend=None),
        stroke=alt.Stroke("v:Q", scale=cscale, legend=None),
    )
    tdf = pd.DataFrame({"t": ticks})
    t1 = alt.Chart(tdf).mark_rule(color="#222222", strokeWidth=1).encode(
        y=alt.Y("t:Q", scale=yscale, axis=yaxis), x=alt.value(0), x2=alt.value(7))
    t2 = alt.Chart(tdf).mark_rule(color="#222222", strokeWidth=1).encode(
        y=alt.Y("t:Q", scale=yscale, axis=yaxis), x=alt.value(12), x2=alt.value(19))
    lay = [rect, t1, t2] + border(19, H) + [label(title, -49.3, tx_y, 18, angle=270, align="center")]
    return alt.layer(*lay).properties(width=19 + GAP_BAR, height=H)


panel_a = panel(means_exc, means_stops, W, W + GAP_AB, 45, False, True, [
    label("A", -13, -12, 27),
    label("excitation", 168.5, -19, 18, align="center"),
    label("(nS)", -71, 233, 22.5, angle=270),
    label("g", -71, 261, 22.5, angle=270),
    label("i", -63, 240, 15, angle=270),
], [20, 40, 60, 80])
panel_b = panel(means_inh, means_stops, WB, WB, 44.15, False, False, [
    label("B", -15.5, -12, 27),
    label("inhibition", 182, -21, 18, align="center"),
], [20, 40, 60, 80])
panel_c = panel(sds_exc, sds_stops, W, W + GAP_AB, 45, True, True, [
    label("C", -15, -10, 27),
], [20, 40, 60, 80])
panel_d = panel(sds_inh, sds_stops, WB, WB, 44.15, True, False, [
    label("D", -15.5, -10, 27),
    label("g", -50, 278.5, 22.5),
    label("e", -37, 284, 15),
    label("(nS)", -21, 278.5, 22.5),
], [20, 40, 60, 80, 100])

bar_a = bar(means_stops, means_bar_ticks, -6.5, 5, [-4, 0, 4], "error in means (%)", 104.5)
bar_c = bar(sds_stops, sds_bar_ticks, -25, 5, [-20, -10, 0], "error in SDs (%)", 104.2)

chart = alt.concat(
    bar_a, panel_a, panel_b, bar_c, panel_c, panel_d,
    columns=3, spacing={"row": 63.5, "column": 0}, bounds="flush",
).resolve_scale(color="independent", stroke="independent").properties(
    padding={"left": 8, "top": 4, "right": 0, "bottom": 0}
).configure_view(stroke=None)

chart.save("out.html", embed_options={"renderer": "svg", "actions": False})
